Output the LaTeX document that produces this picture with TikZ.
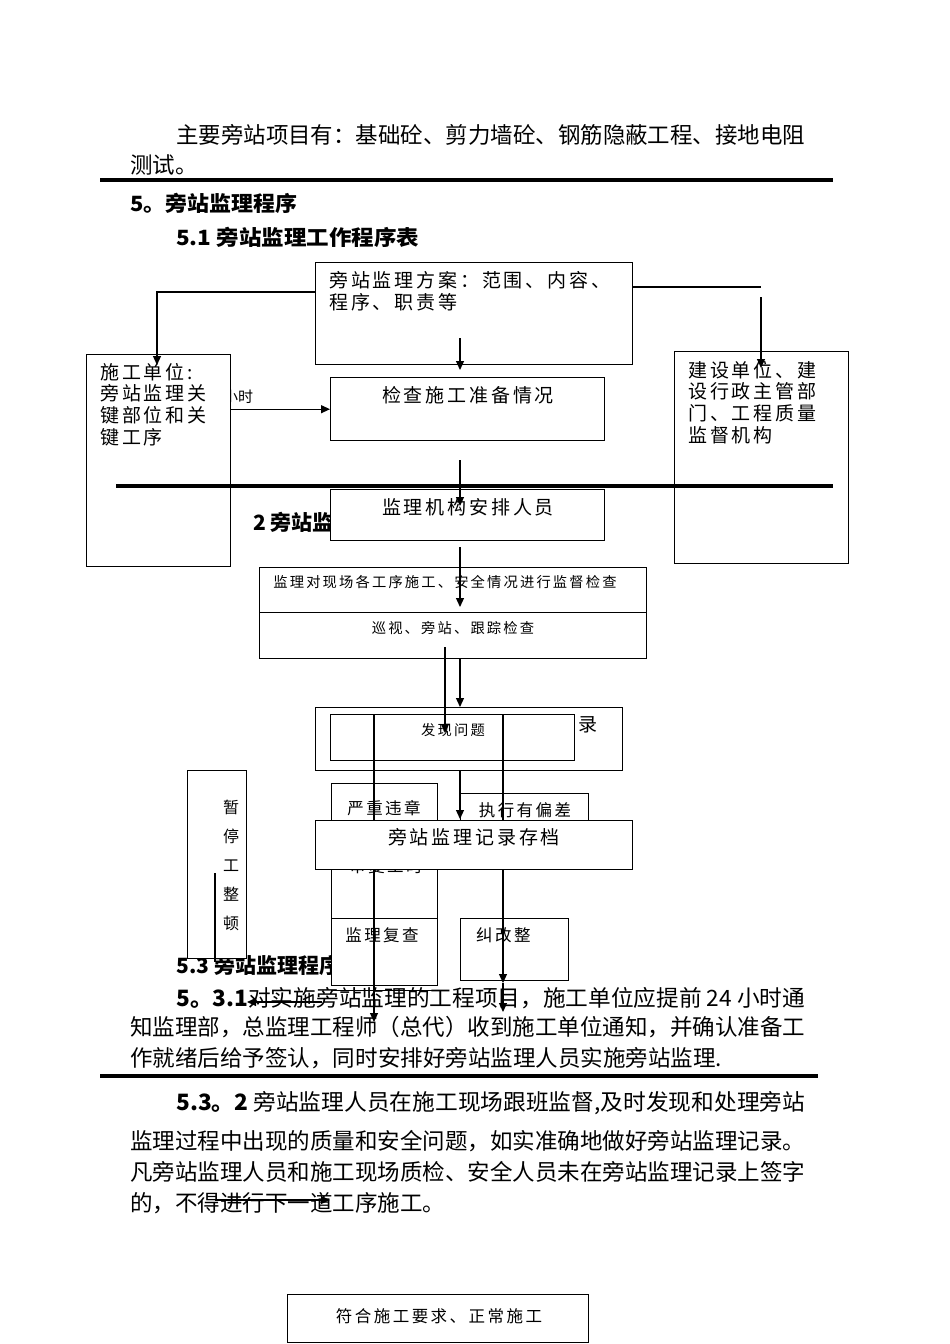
\documentclass[tikz,border=0pt]{standalone}
\usepackage{fontspec}
\usepackage{graphicx}
\setmainfont{Noto Sans CJK SC}
\newfontfamily\cjkd[LetterSpace=15]{Noto Sans CJK SC}
\usetikzlibrary{arrows.meta,calc}
\newcommand{\fitw}[2]{\resizebox{#1pt}{\height}{#2}}
\begin{document}
\begin{tikzpicture}[x=1pt,y=-1pt,
  box/.style={draw=black, line width=1.4pt, fill=white, inner sep=0pt, anchor=north west},
  conn/.style={draw=black, line width=1.2pt},
  arr/.style={conn, -{Triangle[length=9pt,width=8pt]}},
  rulel/.style={draw=black, line width=4pt},
  body/.style={anchor=west, inner sep=0pt, font=\fontsize{22.5}{24}\selectfont},
  head/.style={anchor=west, inner sep=0pt, font=\fontsize{21}{23}\selectfont\bfseries},
  big/.style={inner sep=0pt, font=\cjkd\fontsize{19}{21.8}\selectfont},
  small/.style={inner sep=0pt, font=\cjkd\fontsize{14.3}{16}\selectfont},
  mid/.style={inner sep=0pt, font=\cjkd\fontsize{16.5}{18}\selectfont},
]
\useasboundingbox (0,0) rectangle (950,1344);
\fill[white] (0,0) rectangle (950,1344);

% ---------- running text ----------
\node[body] (p1) at (176,135) {\fitw{629}{主要旁站项目有：基础砼、剪力墙砼、钢筋隐蔽工程、接地电阻}};
\node[body] (p2) at (130,165) {测试。};
\node[head] (h5) at (130,203) {\fitw{167}{5。旁站监理程序}};
\node[head] (h51) at (176,237) {\fitw{243}{5.1 旁站监理工作程序表}};
\node[head] (h52) at (253,522) {2 旁站监理程序};
\node[head] (h53) at (176,965) {\fitw{164}{5.3 旁站监理程序}};
\node[body] (p3) at (176,998) {\fitw{629}{\textbf{5。3.1}对实施旁站监理的工程项目，施工单位应提前 24 小时通}};
\node[body] (p4) at (130,1027) {\fitw{675}{知监理部，总监理工程师（总代）收到施工单位通知，并确认准备工}};
\node[body] (p5) at (130,1058) {\fitw{592}{作就绪后给予签认，同时安排好旁站监理人员实施旁站监理.}};
\node[body] (p6) at (176,1103) {\fitw{629}{\textbf{5.3。2} 旁站监理人员在施工现场跟班监督,及时发现和处理旁站}};
\node[body] (p7) at (130,1141) {\fitw{675}{监理过程中出现的质量和安全问题，如实准确地做好旁站监理记录。}};
\node[body] (p8) at (130,1172) {\fitw{675}{凡旁站监理人员和施工现场质检、安全人员未在旁站监理记录上签字}};
\node[body] (p9) at (130,1203) {的，不得进行下一道工序施工。};
\node[inner sep=0pt, anchor=west, font=\fontsize{15}{16}\selectfont] (xs) at (223,397) {小时};

% ---------- boxes ----------
\node[box, minimum width=317pt, minimum height=102pt] (plan) at (315,262) {};
\node[box, minimum width=144pt, minimum height=212pt] (sg) at (86,354) {};
\node[box, minimum width=274pt, minimum height=63pt] (ck) at (330,377) {};
\node[box, minimum width=174pt, minimum height=212pt] (js) at (674,351) {};
\node[box, minimum width=274pt, minimum height=51pt] (jg) at (330,489) {};
\node[box, minimum width=387pt, minimum height=45pt] (jd1) at (259,567) {};
\node[box, minimum width=387pt, minimum height=46pt] (jd2) at (259,612) {};
\node[box, minimum width=307pt, minimum height=63pt] (rec) at (315,707) {};
\node[box, minimum width=244pt, minimum height=46pt] (fx) at (330,714) {};
\node[box, minimum width=106pt, minimum height=135pt] (yz) at (331,783) {};
\node[box, minimum width=128pt, minimum height=60pt] (zx) at (460,793) {};
\node[box, minimum width=106pt, minimum height=67pt] (fc) at (331,918) {};
\node[box, minimum width=108pt, minimum height=62pt] (jz) at (460,918) {};
\node[box, minimum width=59pt, minimum height=188pt] (zt) at (187,770) {};
\node[box, minimum width=301pt, minimum height=48pt] (fh) at (287,1294) {};

% ---------- box texts ----------
\node[big, anchor=west, align=left] (tplan) at (329,291.5) {旁站监理方案：范围、内容、\\程序、职责等};
\node[big, anchor=west, align=left] (tsg) at (100,404.5) {施工单位:\\旁站监理关\\键部位和关\\键工序};
\node[big] (tck) at (468,395) {检查施工准备情况};
\node[big, anchor=west, align=left] (tjs) at (688,402.5) {建设单位、建\\设行政主管部\\门、工程质量\\监督机构};
\node[big] (tjg) at (468,507) {监理机构安排人员};
\node[small] (tjd1) at (445,582) {监理对现场各工序施工、安全情况进行监督检查};
\node[small] (tjd2) at (453,628) {巡视、旁站、跟踪检查};
\node[big, anchor=west] (trec) at (578,725) {录};
\node[small] (tfx) at (453,730) {发现问题};
\node[mid] (tyz) at (384,808) {严重违章};
\node[mid] (tzx) at (525,810) {执行有偏差};
\node[mid] (thid) at (386,866) {审复工时};
\node[mid] (tfc) at (382,935) {监理复查};
\node[mid, anchor=west] (tjz) at (476,935) {纠改整};
\node[mid, align=center, font=\cjkd\fontsize{16}{29}\selectfont] (tzt) at (231,865) {暂\\停\\工\\整\\顿};
\node[mid] (tfh) at (439,1316) {符合施工要求、正常施工};

% ---------- rules ----------
\draw[rulel] (100,180) -- (833,180);
\draw[rulel] (116,486) -- (833,486);
\draw[rulel] (100,1076) -- (818,1076);

% ---------- connectors ----------
\coordinate (a1) at (157,292);
\coordinate (a1e) at (157,365);
\draw[arr] (a1 -| plan.west) -- (a1) -- (a1e);
\coordinate (a2) at (761,287);
\draw[conn] (a2 -| plan.east) -- (a2);
\coordinate (a3s) at (761,297);
\coordinate (a3e) at (761,368);
\draw[arr] (a3s) -- (a3e);
\coordinate (a4s) at (460,338);
\coordinate (a4e) at (460,370);
\draw[arr] (a4s) -- (a4e);
\draw[arr] (sg.east |- ck.west) -- (ck.west);
\coordinate (a5s) at (460,460);
\coordinate (a5e) at (460,506);
\draw[arr] (a5s) -- (a5e);
\coordinate (a6s) at (460,547);
\coordinate (a6e) at (460,607);
\draw[arr] (a6s) -- (a6e);
\coordinate (a7e) at (460,707);
\draw[arr] (a7e |- jd2.south) -- (a7e);
\coordinate (a8s) at (445,647);
\coordinate (a8e) at (445,733);
\draw[arr] (a8s) -- (a8e);
\coordinate (v1) at (374,1022);
\draw[arr] (v1 |- fx.north) -- (v1);
\coordinate (v2) at (503,983);
\coordinate (v3) at (503,1012);
\draw[arr] (v2 |- fx.north) -- (v2);
\draw[arr] (v2) -- (v3);
\coordinate (a9e) at (460,819);
\draw[arr] (a9e |- rec.south) -- (a9e);
\coordinate (t1) at (215,873);
\coordinate (t2) at (215,962);
\draw[conn] (t1) -- (t2);
\coordinate (h1) at (322,1002);
\coordinate (h2) at (247,1002);
\draw[arr] (h1) -- (h2);
\coordinate (b1) at (215,1200);
\coordinate (b2) at (330,1200);
\draw[arr] (b1) -- (b2);

% ---------- top box ----------
\node[box, minimum width=317pt, minimum height=49pt] (dang) at (315,820) {};
\node[big] (tdang) at (474,837) {旁站监理记录存档};
\draw[line width=1.2pt] ($(fc.south west)+(0,4)$) -- ($(fc.south east)+(0,4)$);
\end{tikzpicture}
\end{document}
